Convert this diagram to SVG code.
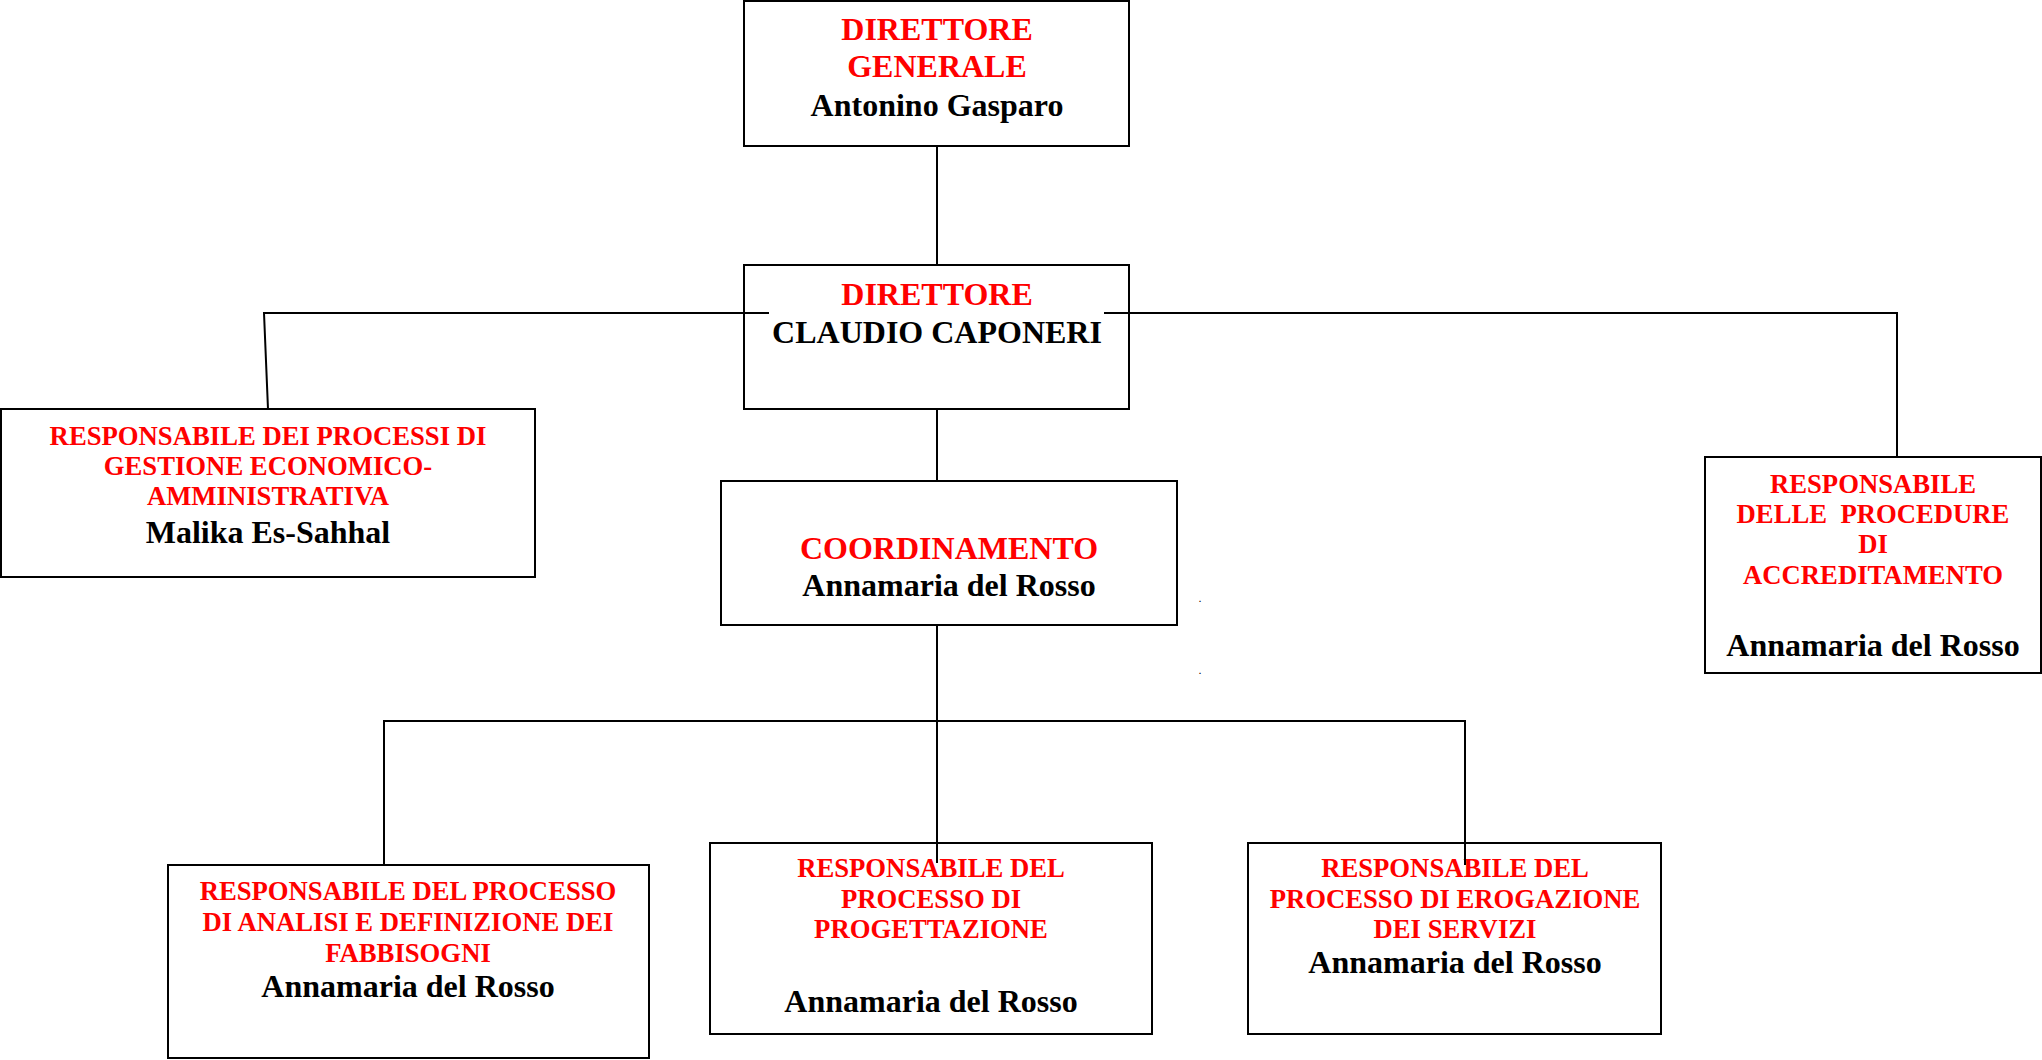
<svg xmlns="http://www.w3.org/2000/svg" width="2042" height="1060" viewBox="0 0 2042 1060">
<style>
.box{fill:#fff;stroke:#000;stroke-width:2}
.ln{fill:none;stroke:#000;stroke-width:2}
text{font-family:"Liberation Serif","Times New Roman",serif;font-weight:bold;text-anchor:middle}
.r{fill:#ff0000;font-size:26.7px}
.rl{fill:#ff0000;font-size:32px}
.k{fill:#000;font-size:32px}
.dot{fill:#000;font-size:8px}
</style>
<rect width="2042" height="1060" fill="#fff"/>
<g id="direttore-generale">
<rect class="box" x="744" y="1" width="385" height="145"/>
<text class="rl" x="937" y="40">DIRETTORE</text>
<text class="rl" x="937" y="77">GENERALE</text>
<text class="k" x="937" y="116">Antonino Gasparo</text>
</g>
<g id="direttore">
<rect class="box" x="744" y="265" width="385" height="144"/>
<text class="rl" x="937" y="305">DIRETTORE</text>
<text class="k" x="937" y="343">CLAUDIO CAPONERI</text>
</g>
<g id="resp-economico">
<rect class="box" x="1" y="409" width="534" height="168"/>
<text class="r" x="268" y="445">RESPONSABILE DEI PROCESSI DI</text>
<text class="r" x="268" y="475">GESTIONE ECONOMICO-</text>
<text class="r" x="268" y="505">AMMINISTRATIVA</text>
<text class="k" x="268" y="543">Malika Es-Sahhal</text>
</g>
<g id="coordinamento">
<rect class="box" x="721" y="481" width="456" height="144"/>
<text class="rl" x="949" y="559">COORDINAMENTO</text>
<text class="k" x="949" y="596">Annamaria del Rosso</text>
</g>
<g id="resp-accreditamento">
<rect class="box" x="1705" y="457" width="336" height="216"/>
<text class="r" x="1873" y="493">RESPONSABILE</text>
<text class="r" x="1873" y="523" xml:space="preserve">DELLE  PROCEDURE</text>
<text class="r" x="1873" y="553">DI</text>
<text class="r" x="1873" y="584">ACCREDITAMENTO</text>
<text class="k" x="1873" y="656">Annamaria del Rosso</text>
</g>
<g id="resp-fabbisogni">
<rect class="box" x="168" y="865" width="481" height="193"/>
<text class="r" x="408" y="900">RESPONSABILE DEL PROCESSO</text>
<text class="r" x="408" y="931">DI ANALISI E DEFINIZIONE DEI</text>
<text class="r" x="408" y="962">FABBISOGNI</text>
<text class="k" x="408" y="997">Annamaria del Rosso</text>
</g>
<g id="resp-progettazione">
<rect class="box" x="710" y="843" width="442" height="191"/>
<text class="r" x="931" y="877">RESPONSABILE DEL</text>
<text class="r" x="931" y="908">PROCESSO DI</text>
<text class="r" x="931" y="938">PROGETTAZIONE</text>
<text class="k" x="931" y="1012">Annamaria del Rosso</text>
</g>
<g id="resp-erogazione">
<rect class="box" x="1248" y="843" width="413" height="191"/>
<text class="r" x="1455" y="877">RESPONSABILE DEL</text>
<text class="r" x="1455" y="908">PROCESSO DI EROGAZIONE</text>
<text class="r" x="1455" y="938">DEI SERVIZI</text>
<text class="k" x="1455" y="973">Annamaria del Rosso</text>
</g>
<text class="dot" x="1200" y="602">.</text>
<text class="dot" x="1200" y="674">.</text>
<g id="connectors">
<path class="ln" d="M937,146 V265"/>
<path class="ln" d="M769,313 H264 L268,409"/>
<path class="ln" d="M1104,313 H1897 V457"/>
<path class="ln" d="M937,409 V481"/>
<path class="ln" d="M937,625 V863"/>
<path class="ln" d="M384,865 V721 H1465 V865"/>
</g>
</svg>
